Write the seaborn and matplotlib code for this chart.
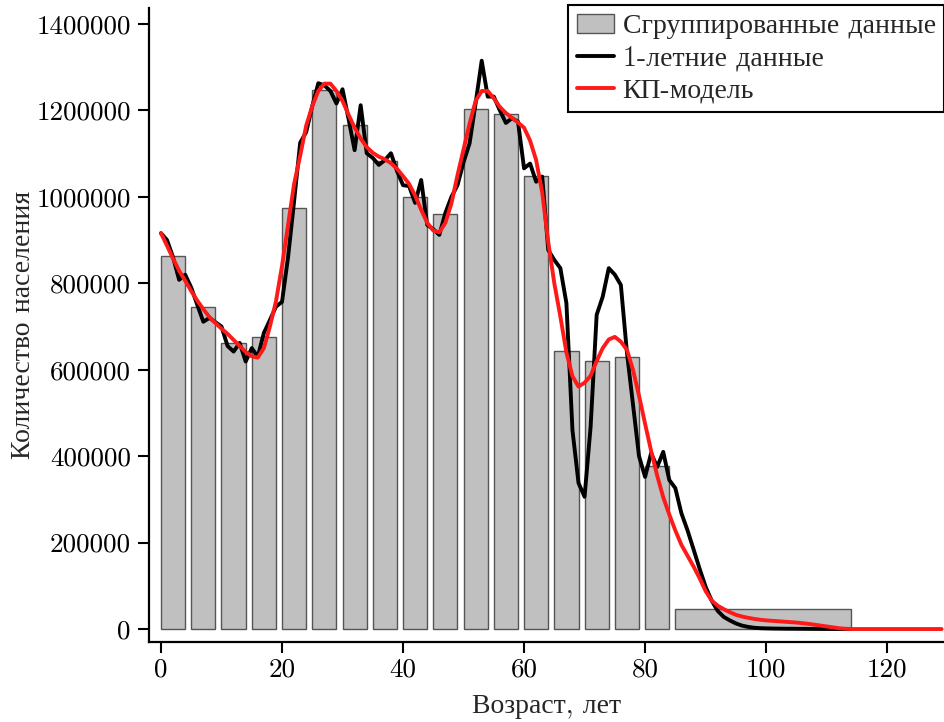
import matplotlib
matplotlib.use("Agg")
import matplotlib.pyplot as plt
import numpy as np
import pandas as pd
import seaborn as sns

# Grouped population counts (age groups: lower..upper years)
group_lower = [0, 5, 10, 15, 20, 25, 30, 35, 40, 45, 50, 55, 60, 65, 70, 75, 80, 85]
group_upper = [4, 9, 14, 19, 24, 29, 34, 39, 44, 49, 54, 59, 64, 69, 74, 79, 84, 114]
group_values = [863000, 745000, 662000, 676000, 974000, 1247000, 1166000, 1083000,
                1000000, 960000, 1203000, 1192000, 1048000, 643000, 620000, 629000,
                377000, 46000]

# Single-year population counts, ages 0..114
single_ages = list(range(0, 115))
single_values = [
    916000, 900000, 860000, 808000, 820000, 790000, 750000, 711000, 720000, 710000,   # 0-9
    700000, 655000, 642000, 662000, 619000, 650000, 630000, 685000, 715000, 746000,   # 10-19
    757000, 860000, 990000, 1125000, 1150000, 1210000, 1263000, 1258000, 1245000, 1216000,  # 20-29
    1249000, 1180000, 1108000, 1212000, 1101000, 1090000, 1074000, 1085000, 1101000, 1060000,  # 30-39
    1027000, 1025000, 986000, 1039000, 935000, 925000, 912000, 963000, 1000000, 1027000,  # 40-49
    1080000, 1124000, 1217000, 1315000, 1232000, 1232000, 1200000, 1171000, 1182000, 1174000,  # 50-59
    1066000, 1077000, 1035000, 1047000, 877000, 854000, 835000, 754000, 460000, 338000,  # 60-69
    306000, 468000, 727000, 769000, 835000, 820000, 796000, 640000, 520000, 400000,   # 70-79
    352000, 407000, 375000, 410000, 345000, 326000, 268000, 229000, 185000, 140000,   # 80-89
    98000, 66000, 42000, 28000, 20000, 13000, 8000, 5000, 3000, 2000,                  # 90-99
    1500, 1200, 1000, 800, 700, 600, 500, 400, 300, 200,                               # 100-109
    150, 100, 60, 30, 0,                                                               # 110-114
]

# Model curve, ages 0..129
model_ages = list(range(0, 130))
model_values = [
    916000, 887000, 857000, 829000, 806000, 782000, 760000, 740000, 722000, 708000,   # 0-9
    695000, 683000, 669000, 655000, 641000, 631000, 628000, 650000, 700000, 758000,   # 10-19
    840000, 935000, 1030000, 1095000, 1165000, 1210000, 1245000, 1262000, 1262000, 1245000,  # 20-29
    1222000, 1190000, 1160000, 1135000, 1115000, 1102000, 1093000, 1087000, 1078000, 1065000,  # 30-39
    1048000, 1030000, 1003000, 970000, 940000, 922000, 918000, 940000, 985000, 1050000,  # 40-49
    1110000, 1170000, 1222000, 1245000, 1245000, 1228000, 1208000, 1194000, 1183000, 1172000,  # 50-59
    1160000, 1130000, 1085000, 1010000, 895000, 800000, 723000, 640000, 585000, 561000,  # 60-69
    570000, 586000, 620000, 650000, 670000, 676000, 665000, 646000, 600000, 540000,   # 70-79
    475000, 412000, 355000, 305000, 265000, 228000, 195000, 170000, 145000, 118000,   # 80-89
    88000, 66000, 54000, 46000, 39000, 33000, 29000, 26000, 23500, 21500,              # 90-99
    20000, 19000, 18000, 17000, 16000, 15000, 13500, 12000, 10000, 8000,               # 100-109
    6000, 4000, 2000, 800, 0, 0, 0, 0, 0, 0,                                           # 110-119
    0, 0, 0, 0, 0, 0, 0, 0, 0, 0,                                                      # 120-129
]

x_ticks = [0, 20, 40, 60, 80, 100, 120]
y_ticks = [0, 200000, 400000, 600000, 800000, 1000000, 1200000, 1400000]
y_tick_labels = [str(v) for v in y_ticks]

label_grouped = "Сгруппированные данные"
label_single = "1-летние данные"
label_model = "КП-модель"
x_label = "Возраст, лет"
y_label = "Количество населения"

sns.set_style("ticks")
plt.rcParams["font.family"] = ["cmr10", "Liberation Serif"]
plt.rcParams["axes.formatter.use_mathtext"] = True
plt.rcParams["axes.unicode_minus"] = False

fig = plt.figure(figsize=(9.44, 7.22), dpi=100)
ax = fig.add_axes([149 / 944, 1 - 642 / 722, 795 / 944, 634 / 722])

widths = [u - l for l, u in zip(group_lower, group_upper)]
bars = ax.bar(group_lower, group_values, width=widths, align="edge",
              color="#c0c0c0", edgecolor="#555555", linewidth=1.0,
              label=label_grouped, zorder=1)

single_df = pd.DataFrame({"age": single_ages, "value": single_values})
model_df = pd.DataFrame({"age": model_ages, "value": model_values})
sns.lineplot(data=single_df, x="age", y="value", ax=ax, color="black",
             linewidth=2.8, label=label_single, zorder=3)
sns.lineplot(data=model_df, x="age", y="value", ax=ax, color="#ff1a1a",
             linewidth=2.8, label=label_model, zorder=4)

ax.set_xlim(-1.98, 129.4)
ax.set_ylim(-30000, 1437000)
ax.set_xticks(x_ticks)
ax.set_xticklabels([str(t) for t in x_ticks])
ax.set_yticks(y_ticks)
ax.set_yticklabels(y_tick_labels)
ax.tick_params(axis="both", labelsize=19.5, length=8, width=1.5, direction="out",
               color="black", labelcolor="black")
ax.tick_params(axis="y", pad=5)
ax.set_xlabel(x_label, fontsize=20, labelpad=8)
ax.set_ylabel(y_label, fontsize=20, labelpad=0)

sns.despine(ax=ax)
for side in ("left", "bottom"):
    ax.spines[side].set_linewidth(1.6)
    ax.spines[side].set_color("black")

handles, labels = ax.get_legend_handles_labels()
order = [labels.index(label_grouped), labels.index(label_single), labels.index(label_model)]
leg = ax.legend([handles[i] for i in order], [labels[i] for i in order],
                loc="upper right", bbox_to_anchor=(1.0, 1.005), borderaxespad=0,
                fontsize=20, frameon=True, fancybox=False, framealpha=1,
                edgecolor="black", handlelength=1.35, handletextpad=0.3,
                labelspacing=0.2, borderpad=0.3)
leg.get_frame().set_linewidth(1.5)

fig.savefig("out.png", dpi=100)
